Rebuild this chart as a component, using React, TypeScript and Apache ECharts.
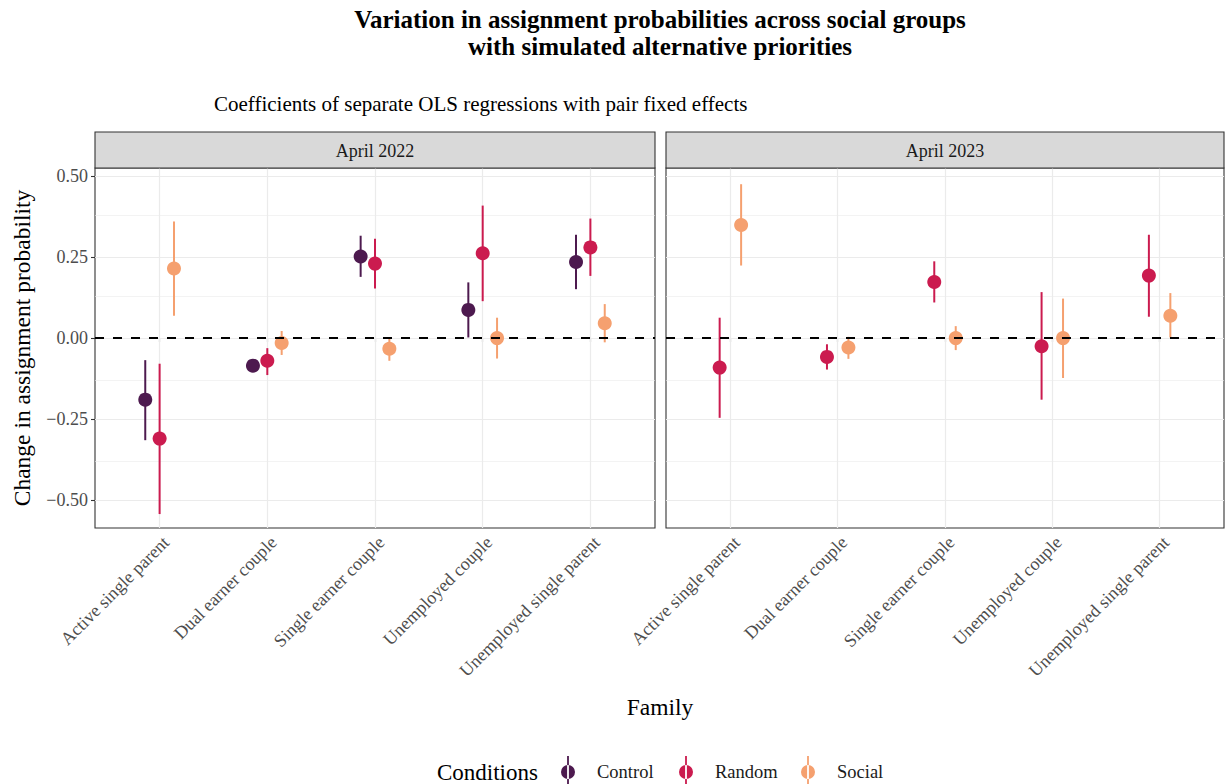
import React, { useEffect, useRef } from "react";
import * as echarts from "echarts";

const families = [
  "Active single parent",
  "Dual earner couple",
  "Single earner couple",
  "Unemployed couple",
  "Unemployed single parent",
];
const panels = ["April 2022", "April 2023"];
const conditions = ["Control", "Random", "Social"];
const conditionColors = ["#4D1A4F", "#CB1B4F", "#F5A06F"];
const yTicks = [-0.5, -0.25, 0, 0.25, 0.5];
const yMinorTicks = [-0.375, -0.125, 0.125, 0.375];

// April 2022
const control2022Est = [-0.19, -0.085, 0.252, 0.087, 0.235];
const control2022Lo = [-0.315, -0.096, 0.189, 0.002, 0.151];
const control2022Hi = [-0.068, -0.074, 0.316, 0.172, 0.319];
const random2022Est = [-0.31, -0.07, 0.23, 0.262, 0.28];
const random2022Lo = [-0.543, -0.114, 0.153, 0.114, 0.192];
const random2022Hi = [-0.079, -0.031, 0.307, 0.409, 0.369];
const social2022Est = [0.215, -0.015, -0.033, 0.0, 0.046];
const social2022Lo = [0.069, -0.052, -0.07, -0.063, -0.013];
const social2022Hi = [0.36, 0.022, 0.002, 0.063, 0.105];
// April 2023 (no Control group)
const random2023Est = [-0.091, -0.058, 0.173, -0.025, 0.193];
const random2023Lo = [-0.246, -0.097, 0.11, -0.19, 0.066];
const random2023Hi = [0.063, -0.019, 0.237, 0.142, 0.319];
const social2023Est = [0.349, -0.029, 0.0, 0.0, 0.069];
const social2023Lo = [0.224, -0.064, -0.037, -0.123, 0.002];
const social2023Hi = [0.475, 0.004, 0.037, 0.122, 0.139];

const SERIF = "'Liberation Serif', 'DejaVu Serif', serif";

type Grp = { cond: number; est: number[]; lo: number[]; hi: number[] };
const panelGroups: Grp[][] = [
  [
    { cond: 0, est: control2022Est, lo: control2022Lo, hi: control2022Hi },
    { cond: 1, est: random2022Est, lo: random2022Lo, hi: random2022Hi },
    { cond: 2, est: social2022Est, lo: social2022Lo, hi: social2022Hi },
  ],
  [
    { cond: 1, est: random2023Est, lo: random2023Lo, hi: random2023Hi },
    { cond: 2, est: social2023Est, lo: social2023Lo, hi: social2023Hi },
  ],
];

const DODGE = 0.4;
const legendIcon = "path://M6.1,0H7.9V32H6.1Z M0,16A7,7 0 1,0 14,16A7,7 0 1,0 0,16Z";

function fmtY(v: number) {
  const s = Math.abs(v).toFixed(2);
  return (v < 0 ? "\u2212" : "") + s;
}

export default function App() {
  const ref = useRef<HTMLDivElement>(null);
  useEffect(() => {
    if (!ref.current) return;
    const chart = echarts.init(ref.current, undefined, { renderer: "svg" });
    const gridDefs = [
      { left: 95, top: 168, width: 560, height: 360 },
      { left: 666, top: 168, width: 558, height: 360 },
    ];
    const grids = gridDefs.map((g) => ({
      ...g,
      show: true,
      backgroundColor: "#FFFFFF",
      borderColor: "#333333",
      borderWidth: 1.1,
      containLabel: false,
    }));
    const xAxes = gridDefs.map((_, i) => ({
      type: "value",
      gridIndex: i,
      min: 0.4,
      max: 5.6,
      axisLine: { show: false },
      splitLine: { show: false },
      axisTick: {
        show: true,
        length: 4,
        lineStyle: { color: "#333333", width: 1.1 },
        customValues: [1, 2, 3, 4, 5],
      },
      axisLabel: {
        show: true,
        customValues: [1, 2, 3, 4, 5],
        rotate: 45,
        margin: 5,
        verticalAlign: "top",
        fontFamily: SERIF,
        fontSize: 18,
        color: "#4D4D4D",
        formatter: (v: number) => families[Math.round(v) - 1] ?? "",
      },
    }));
    const yAxes = gridDefs.map((_, i) => ({
      type: "value",
      gridIndex: i,
      min: -0.586,
      max: 0.525,
      axisLine: { show: false },
      splitLine: { show: false },
      axisTick: {
        show: i === 0,
        length: 4,
        lineStyle: { color: "#333333", width: 1.1 },
        customValues: yTicks,
      },
      axisLabel: {
        show: i === 0,
        customValues: yTicks,
        margin: 7,
        fontFamily: SERIF,
        fontSize: 18,
        color: "#4D4D4D",
        formatter: (v: number) => fmtY(v),
      },
    }));

    const series: any[] = [];
    panelGroups.forEach((groups, p) => {
      // gridlines
      series.push({
        type: "line",
        xAxisIndex: p,
        yAxisIndex: p,
        data: [],
        silent: true,
        z: 1,
        markLine: {
          silent: true,
          z: 1,
          symbol: "none",
          label: { show: false },
          animation: false,
          data: [
            ...yMinorTicks.map((v) => ({ yAxis: v, lineStyle: { color: "#EBEBEB", width: 0.6, type: "solid" } })),
            ...yTicks.map((v) => ({ yAxis: v, lineStyle: { color: "#EBEBEB", width: 1.2, type: "solid" } })),
            ...families.map((_, k) => ({ xAxis: k + 1, lineStyle: { color: "#EBEBEB", width: 1.2, type: "solid" } })),
          ],
        },
      });
      const n = groups.length;
      groups.forEach((g, gi) => {
        const off = (gi - (n - 1) / 2) * (DODGE / n);
        series.push({
          type: "custom",
          name: conditions[g.cond],
          xAxisIndex: p,
          yAxisIndex: p,
          z: 3,
          itemStyle: { color: conditionColors[g.cond] },
          data: families.map((_, k) => [k + 1 + off, g.est[k], g.lo[k], g.hi[k]]),
          renderItem: (params: any, api: any) => {
            const x = api.value(0);
            const c = api.coord([x, api.value(1)]);
            const lo = api.coord([x, api.value(2)]);
            const hi = api.coord([x, api.value(3)]);
            const color = conditionColors[g.cond];
            return {
              type: "group",
              children: [
                {
                  type: "line",
                  shape: { x1: lo[0], y1: lo[1], x2: hi[0], y2: hi[1] },
                  style: { stroke: color, lineWidth: 2 },
                },
                {
                  type: "circle",
                  shape: { cx: c[0], cy: c[1], r: 7 },
                  style: { fill: color },
                },
              ],
            };
          },
        });
      });
      // dashed zero line
      series.push({
        type: "line",
        xAxisIndex: p,
        yAxisIndex: p,
        data: [],
        silent: true,
        z: 10,
        markLine: {
          silent: true,
          z: 10,
          symbol: "none",
          label: { show: false },
          animation: false,
          data: [{ yAxis: 0, lineStyle: { color: "#000000", width: 1.8, type: [9, 9] } }],
        },
      });
    });

    const legendLefts = [561, 679, 801];
    const legends = conditions.map((c, i) => ({
      show: true,
      left: legendLefts[i],
      top: 756,
      padding: 0,
      orient: "horizontal",
      itemWidth: 14,
      itemHeight: 32,
      selectedMode: false,
      data: [{ name: c, icon: legendIcon }],
      textStyle: {
        fontFamily: SERIF,
        fontSize: 18.5,
        color: "#1A1A1A",
        padding: [0, 0, 0, 17],
      },
    }));

    const graphics: any[] = [];
    // strips
    gridDefs.forEach((g, i) => {
      graphics.push({
        type: "rect",
        shape: { x: g.left, y: 132, width: g.width, height: 36 },
        style: { fill: "#D9D9D9", stroke: "#333333", lineWidth: 1.1 },
        z: 10,
      });
      graphics.push({
        type: "text",
        x: g.left + g.width / 2,
        y: 151,
        style: {
          text: panels[i],
          fontFamily: SERIF,
          fontSize: 18,
          fill: "#1A1A1A",
          align: "center",
          verticalAlign: "middle",
        },
        z: 11,
      });
    });
    graphics.push(
      {
        type: "text",
        x: 660,
        y: 33,
        style: {
          text: "Variation in assignment probabilities across social groups\nwith simulated alternative priorities",
          fontFamily: SERIF,
          fontSize: 25,
          fontWeight: "bold",
          lineHeight: 27,
          fill: "#000000",
          align: "center",
          verticalAlign: "middle",
        },
      },
      {
        type: "text",
        x: 214,
        y: 104,
        style: {
          text: "Coefficients of separate OLS regressions with pair fixed effects",
          fontFamily: SERIF,
          fontSize: 21,
          fill: "#000000",
          align: "left",
          verticalAlign: "middle",
        },
      },
      {
        type: "text",
        x: 22,
        y: 348,
        rotation: Math.PI / 2,
        style: {
          text: "Change in assignment probability",
          fontFamily: SERIF,
          fontSize: 23.5,
          fill: "#000000",
          align: "center",
          verticalAlign: "middle",
        },
      },
      {
        type: "text",
        x: 660,
        y: 707,
        style: {
          text: "Family",
          fontFamily: SERIF,
          fontSize: 23.5,
          fill: "#000000",
          align: "center",
          verticalAlign: "middle",
        },
      },
      {
        type: "text",
        x: 437,
        y: 772,
        style: {
          text: "Conditions",
          fontFamily: SERIF,
          fontSize: 23,
          fill: "#000000",
          align: "left",
          verticalAlign: "middle",
        },
      }
    );

    chart.setOption({
      animation: false,
      backgroundColor: "#FFFFFF",
      grid: grids,
      xAxis: xAxes,
      yAxis: yAxes,
      legend: legends,
      series,
      graphic: graphics,
    });
    return () => chart.dispose();
  }, []);
  return (
    <div
      ref={ref}
      style={{ position: "fixed", left: 0, top: 0, width: 1225, height: 784, background: "#fff" }}
    />
  );
}
